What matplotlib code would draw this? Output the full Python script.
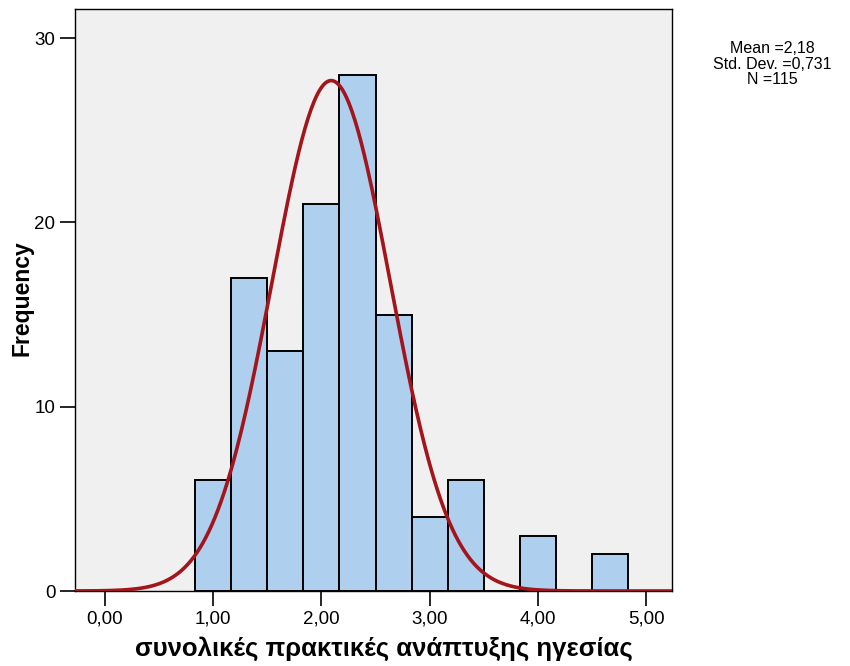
import matplotlib

matplotlib.use("Agg")
import matplotlib.pyplot as plt
import numpy as np

# histogram
bin_start = 5 / 6
bin_width = 1 / 3
counts = [6, 17, 13, 21, 28, 15, 4, 6, 0, 3, 0, 2]

# fitted normal curve as drawn (peak position, spread, height)
curve_mu = 2.09
curve_sigma = 0.545
curve_peak = 27.7

x_ticks = [0, 1, 2, 3, 4, 5]
y_ticks = [0, 10, 20, 30]
stats_lines = ["Mean =2,18", "Std. Dev. =0,731", "N =115"]
x_label = "συνολικές πρακτικές ανάπτυξης ηγεσίας"
y_label = "Frequency"

plt.rcParams["font.family"] = ["Liberation Sans", "DejaVu Sans"]

fig = plt.figure(figsize=(8.5, 6.66), dpi=100)
ax = fig.add_axes([74.7 / 850, 1 - 591 / 666, (672 - 74.7) / 850, (591 - 8.7) / 666])
ax.set_facecolor("#F0F0F0")

lefts = bin_start + bin_width * np.arange(len(counts))
ax.bar(lefts, counts, width=bin_width, align="edge", color="#AED0EE",
       edgecolor="black", linewidth=1.4, zorder=2)

xs = np.linspace(-0.3, 5.3, 400)
ys = curve_peak * np.exp(-0.5 * ((xs - curve_mu) / curve_sigma) ** 2)
ax.plot(xs, ys, color="#A3141B", lw=2.6, zorder=3)

ax.set_xlim(-0.278, 5.237)
ax.set_ylim(0, 31.6)
ax.set_xticks(x_ticks)
ax.set_xticklabels([f"{t:.2f}".replace(".", ",") for t in x_ticks])
ax.set_yticks(y_ticks)
ax.tick_params(axis="both", direction="out", length=11, width=1.2,
               labelsize=13.5, colors="black", pad=3)
for s in ax.spines.values():
    s.set_linewidth(1.0)
    s.set_color("black")

# axis titles placed where SPSS puts them
fig.text(384 / 850, 1 - 649 / 666, x_label, ha="center", va="center",
         fontsize=18.5, fontweight="bold")
fig.text(22 / 850, 1 - 298 / 666, y_label, ha="center", va="center",
         rotation=90, fontsize=16.5, fontweight="bold")

fig.text(772 / 850, 1 - 41 / 666, "\n".join(stats_lines), ha="center", va="top",
         fontsize=11.5, linespacing=1.05)

fig.savefig("out.png", dpi=100)
